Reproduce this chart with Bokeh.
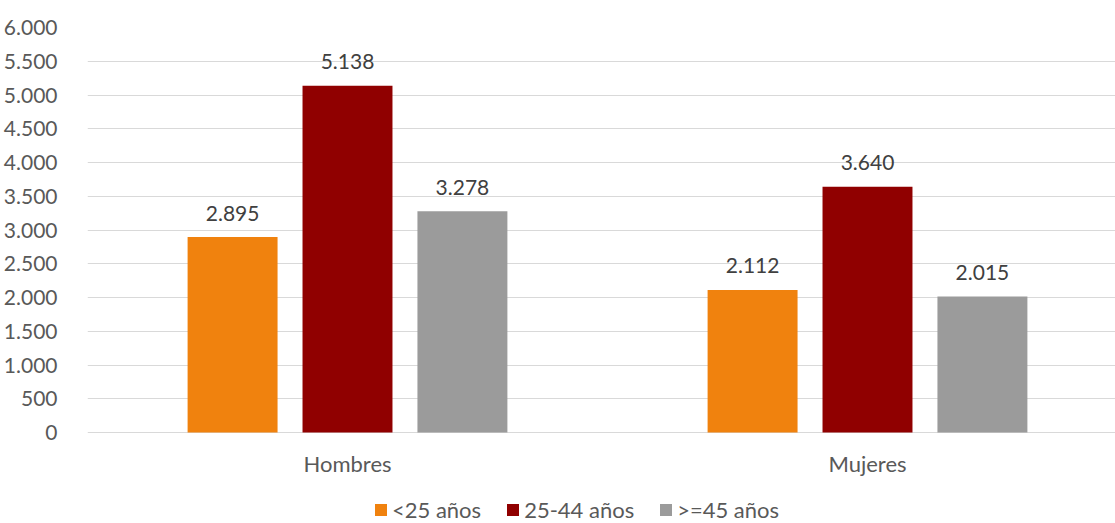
from bokeh.plotting import figure
from bokeh.models import ColumnDataSource, Range1d, FixedTicker, Legend, LegendItem
from bokeh.transform import dodge
from bokeh.core.properties import value
from bokeh.embed import file_html
from bokeh.resources import INLINE

categories = ["Hombres", "Mujeres"]
series_names = ["<25 años", "25-44 años", ">=45 años"]
menores_25 = [2895, 2112]
de_25_44 = [5138, 3640]
mayores_45 = [3278, 2015]
y_ticks = [0, 500, 1000, 1500, 2000, 2500, 3000, 3500, 4000, 4500, 5000, 5500, 6000]

colors = ["#F0820E", "#900000", "#9B9B9B"]
FONT = "Lato"
TXT = "#595959"

def fmt(v):
    return "{:,}".format(v).replace(",", ".")

xpos = [i + 0.5 for i in range(len(categories))]
data = dict(x=xpos, cat=categories, zero=[0] * len(categories))
for key, vals in (("a", menores_25), ("b", de_25_44), ("c", mayores_45)):
    data[key] = vals
    data[key + "_lbl"] = [fmt(v) for v in vals]
src = ColumnDataSource(data)

# frame: 1028 x 496 px; value 0 sits 91 px above the frame bottom
p = figure(width=1115, height=523, output_backend="svg", toolbar_location=None,
           x_axis_location=None,
           x_range=Range1d(0, 1028 / 520), y_range=Range1d(-91 * 6000 / 405, 6000),
           min_border_left=87, min_border_right=0, min_border_top=27, min_border_bottom=0)
p.outline_line_color = None
p.background_fill_color = "white"

offsets = [-0.221, 0.0, 0.221]
renderers = []
for key, off, col in zip(["a", "b", "c"], offsets, colors):
    r = p.vbar(x=dodge("x", off), top=key, width=0.173, source=src,
               fill_color=col, line_color=None)
    renderers.append(r)
    p.text(x=dodge("x", off), y=key, text=key + "_lbl", source=src,
           text_align="center", text_baseline="alphabetic", y_offset=-24,
           text_font=value(FONT), text_font_size="21px", text_color="#404040")

# category labels under the baseline
p.text(x="x", y="zero", text="cat", source=src, text_align="center",
       text_baseline="middle", y_offset=31, text_font=value(FONT),
       text_font_size="22px", text_color=TXT)

# y axis
p.yaxis.ticker = FixedTicker(ticks=y_ticks)
p.yaxis.major_label_overrides = {t: fmt(t) for t in y_ticks}
p.yaxis.axis_line_color = None
p.yaxis.major_tick_line_color = None
p.yaxis.minor_tick_line_color = None
p.yaxis.major_label_standoff = 24
p.yaxis.major_label_text_font = FONT
p.yaxis.major_label_text_font_size = "21px"
p.yaxis.major_label_text_color = TXT

p.xgrid.grid_line_color = None
p.ygrid.grid_line_color = "#D9D9D9"
p.ygrid.grid_line_width = 1

legend = Legend(items=[LegendItem(label=n, renderers=[r]) for n, r in zip(series_names, renderers)],
                orientation="horizontal", location=(286, 0),
                label_text_font=FONT, label_text_font_size="22px", label_text_color=TXT,
                glyph_width=15, glyph_height=15, spacing=24, label_standoff=4,
                border_line_color=None, background_fill_alpha=0, margin=0, padding=2)
p.add_layout(legend)

open("out.html", "w").write(file_html(p, INLINE))
